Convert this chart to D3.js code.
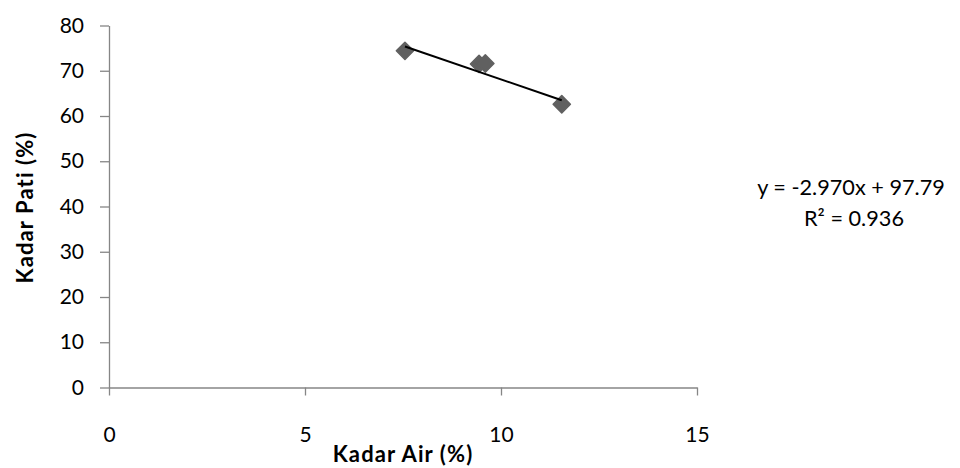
<!DOCTYPE html>
<html>
<head>
<meta charset="utf-8">
<script src="https://cdn.jsdelivr.net/npm/d3@7"></script>
<style>
  html, body { margin: 0; padding: 0; background: #fff; }
  svg { display: block; font-family: Lato, "Open Sans", sans-serif; }
</style>
</head>
<body>
<svg id="chart" width="960" height="468"></svg>
<script>
// Data
const kadarAir  = [7.55, 9.44, 9.6, 11.55];
const kadarPati = [74.4, 71.5, 71.6, 62.6];
const trendSlope = -2.970;
const trendIntercept = 97.79;
const xTicks = [0, 5, 10, 15];
const yTicks = [0, 10, 20, 30, 40, 50, 60, 70, 80];
const xTitle = "Kadar Air (%)";
const yTitle = "Kadar Pati (%)";
const eqLine1 = "y = -2.970x + 97.79";
const eqLine2 = "R² = 0.936";

(function () {
const svg = d3.select("#chart");
const mL = 109, mR = 697, mT = 25.5, mB = 387.5;

const x = d3.scaleLinear().domain([0, 15]).range([mL, mR]);
const y = d3.scaleLinear().domain([0, 80]).range([mB, mT]);

const axisColor = "#868686";

const yAxis = svg.append("g").attr("transform", `translate(${mL},0)`)
  .call(d3.axisLeft(y).tickValues(yTicks).tickSize(9).tickPadding(16).tickSizeOuter(0));
const xAxis = svg.append("g").attr("transform", `translate(0,${mB})`)
  .call(d3.axisBottom(x).tickValues(xTicks).tickSize(8).tickPadding(32).tickSizeOuter(0));

[xAxis, yAxis].forEach(g => {
  g.selectAll("path.domain").attr("stroke", axisColor).attr("stroke-width", 1.3);
  g.selectAll(".tick line").attr("stroke", axisColor).attr("stroke-width", 1.3);
  g.selectAll(".tick text").attr("fill", "#000").style("font-size", "21px")
    .style("font-family", "Lato, 'Open Sans', sans-serif");
});

svg.append("text")
  .attr("x", (mL + mR) / 2).attr("y", 462)
  .attr("text-anchor", "middle")
  .style("font-size", "22px").style("font-weight", "bold")
  .style("letter-spacing", "1.1px")
  .text(xTitle);

svg.append("text")
  .attr("transform", `translate(33,${(mT + mB) / 2 + 1}) rotate(-90)`)
  .attr("text-anchor", "middle")
  .style("font-size", "22px").style("font-weight", "bold")
  .style("letter-spacing", "1.1px")
  .text(yTitle);

const pts = kadarAir.map((v, i) => ({ x: v, y: kadarPati[i] }));
const sym = d3.symbol().type(d3.symbolDiamond2).size(190);
svg.append("g").selectAll("path")
  .data(pts).enter().append("path")
  .attr("d", sym)
  .attr("transform", d => `translate(${x(d.x)},${y(d.y)})`)
  .attr("fill", "#606060")
  .attr("stroke", "#606060")
  .attr("stroke-width", 1.5)
  .attr("stroke-linejoin", "round");

const xMin = d3.min(kadarAir), xMax = d3.max(kadarAir);
const trend = [xMin, xMax].map(v => ({ x: v, y: trendSlope * v + trendIntercept }));
svg.append("path")
  .datum(trend)
  .attr("d", d3.line().x(d => x(d.x)).y(d => y(d.y)))
  .attr("stroke", "#000").attr("stroke-width", 2).attr("fill", "none");

svg.append("text").attr("x", 851).attr("y", 195).attr("text-anchor", "middle")
  .style("font-size", "21.7px").text(eqLine1);
svg.append("text").attr("x", 854).attr("y", 226).attr("text-anchor", "middle")
  .style("font-size", "21.7px").text(eqLine2);
})();
</script>
</body>
</html>
